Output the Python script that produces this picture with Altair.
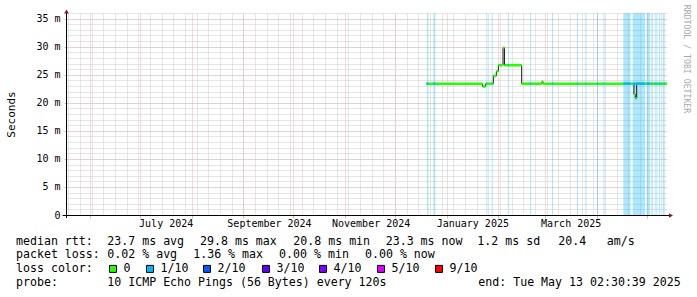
import altair as alt
import pandas as pd

# ---------------- data ----------------
# median RTT (ms): step series, change-point times and values (last = end of data)
med_time = ["2024-12-19T12:00", "2025-01-22T12:00", "2025-01-24T07:00",
            "2025-01-28T22:00", "2025-01-30T17:00", "2025-01-31T22:00",
            "2025-02-03T17:00", "2025-02-04T14:00", "2025-02-14T22:00",
            "2025-02-27T02:00", "2025-02-27T17:00", "2025-04-23T07:00",
            "2025-04-24T02:00", "2025-04-24T22:00", "2025-05-13T02:30"]
med_value = [23.4, 22.9, 23.4, 24.8, 25.6, 26.7, 29.8, 26.7, 23.4,
             23.8, 23.4, 21.5, 20.8, 23.4, 23.4]

# periods with packet loss (1/10)
loss_start = ["2024-12-20T02:00", "2024-12-23T22:00", "2025-01-24T17:00", "2025-01-27T22:00",
              "2025-02-06T17:00", "2025-02-19T22:00", "2025-03-05T02:00", "2025-03-20T02:00",
              "2025-03-25T02:00", "2025-04-01T02:00", "2025-04-05T00:00", "2025-04-16T22:00",
              "2025-04-22T12:00", "2025-04-30T22:00", "2025-05-03T17:00", "2025-05-05T17:00",
              "2025-05-06T17:00", "2025-05-08T07:00", "2025-05-09T17:00", "2025-05-11T02:00"]
loss_end = ["2024-12-20T22:00", "2024-12-25T02:00", "2025-01-25T07:00", "2025-01-28T12:00",
            "2025-02-07T07:00", "2025-02-20T12:00", "2025-03-05T17:00", "2025-03-20T17:00",
            "2025-03-25T17:00", "2025-04-01T17:00", "2025-04-05T14:00", "2025-04-21T07:00",
            "2025-04-29T22:00", "2025-05-02T22:00", "2025-05-04T07:00", "2025-05-06T07:00",
            "2025-05-07T07:00", "2025-05-08T22:00", "2025-05-10T07:00", "2025-05-11T17:00"]

x_label_months = [(2024, 7), (2024, 9), (2024, 11), (2025, 1), (2025, 3)]
y_major = [0, 5, 10, 15, 20, 25, 30, 35]
y_minor = list(range(0, 37))

stats_rtt = ["median rtt:", "23.7 ms avg", "29.8 ms max", "20.8 ms min",
             "23.3 ms now", "1.2 ms sd", "20.4", "am/s"]
stats_loss = ["packet loss:", "0.02 % avg", "1.36 % max", "0.00 % min", "0.00 % now"]
legend_title = "loss color:"
legend_labels = ["0", "1/10", "2/10", "3/10", "4/10", "5/10", "9/10"]
legend_colors = ["#26ff00", "#00b8ff", "#0059ff", "#5e00ff", "#7e00ff", "#dd00ff", "#ff0000"]
probe_text = ["probe:", "10 ICMP Echo Pings (56 Bytes) every 120s",
              "end: Tue May 13 02:30:39 2025"]
credit = "RRDTOOL / TOBI OETIKER"

# ---------------- tables ----------------
med = pd.DataFrame({"t": pd.to_datetime(med_time), "v": med_value})
seg = pd.DataFrame({"t0": med["t"][:-1].values, "t1": med["t"][1:].values,
                    "v": med["v"][:-1].values})
loss = pd.DataFrame({"t0": pd.to_datetime(loss_start), "t1": pd.to_datetime(loss_end)})
blue = pd.merge_asof(loss.sort_values("t0"), med.rename(columns={"t": "t0"}), on="t0").dropna()
one = pd.DataFrame({"k": [0]})

# ---------------- layout ----------------
W, H = 600, 202
MONO = "DejaVu Sans Mono"
t_start = alt.DateTime(year=2024, month=5, date=18, hours=2, minutes=30, seconds=39)
t_end = alt.DateTime(year=2025, month=5, date=13, hours=2, minutes=30, seconds=39)
xs = alt.Scale(domain=[t_start, t_end])
ys = alt.Scale(domain=[0, 36], nice=False, zero=True)
MINOR = "#cdcdcd"
MAJOR = "#f2b0b0"

minor_x = alt.Axis(orient="bottom", grid=True, gridColor=MINOR, gridDash=[1, 1],
                   tickCount={"interval": "week", "step": 1}, labels=False,
                   ticks=False, domain=False, title=None)
major_x = alt.Axis(orient="bottom", grid=True, gridColor=MAJOR, gridDash=[1, 1],
                   tickCount={"interval": "month", "step": 1}, labels=False,
                   ticks=True, tickColor=MAJOR, tickSize=3, domain=False, title=None)
label_x = alt.Axis(orient="bottom", grid=False,
                   values=[alt.DateTime(year=y, month=m, date=1) for y, m in x_label_months],
                   format="%B %Y", labelOffset=25.5, labelAlign="center",
                   labelFont=MONO, labelFontSize=10, labelColor="#000", labelPadding=3,
                   labelFlush=False, labelOverlap=False,
                   ticks=False, domain=False, title=None)
minor_y = alt.Axis(orient="left", values=y_minor, grid=True, gridColor=MINOR,
                   gridDash=[1, 1], labels=False, ticks=False, domain=False, title=None)
major_y = alt.Axis(orient="left", values=y_major, grid=True, gridColor=MAJOR,
                   gridDash=[1, 1], ticks=True, tickColor=MAJOR, tickSize=3,
                   labelExpr="datum.value == 0 ? '0' : datum.value + ' m'",
                   labelFont=MONO, labelFontSize=10, labelColor="#000", labelPadding=4,
                   domain=False, title="Seconds", titleFont=MONO, titleFontSize=11,
                   titleFontWeight="normal", titleColor="#000", titleX=-56, titleY=H / 2,
                   titleBaseline="middle", titleAngle=270)

bands = alt.Chart(loss).mark_rect(color="#00b8ff", opacity=0.32).encode(
    x=alt.X("t0:T", scale=xs, axis=minor_x), x2="t1:T",
    y=alt.value(0), y2=alt.value(H))

dark = alt.Chart(med).mark_line(interpolate="step-after", color="#1a1a1a",
                                strokeWidth=1).encode(
    x=alt.X("t:T", scale=xs, axis=major_x),
    y=alt.Y("v:Q", scale=ys, axis=major_y))

green = alt.Chart(seg).mark_rule(color="#26ff00", strokeWidth=2.6).encode(
    x=alt.X("t0:T", scale=xs, axis=label_x), x2="t1:T",
    y=alt.Y("v:Q", scale=ys, axis=minor_y))

bluel = alt.Chart(blue).mark_rule(color="#00b8ff", strokeWidth=2.6).encode(
    x=alt.X("t0:T", scale=xs, axis=None), x2="t1:T",
    y=alt.Y("v:Q", scale=ys, axis=None))

xline = alt.Chart(one).mark_rule(color="#000", strokeWidth=1).encode(
    x=alt.value(-4.5), x2=alt.value(602), y=alt.value(H + 0.5))
yline = alt.Chart(one).mark_rule(color="#000", strokeWidth=1).encode(
    x=alt.value(-0.5), y=alt.value(-2), y2=alt.value(H + 3))
arrow_up = alt.Chart(one).mark_point(shape="triangle-up", filled=True, color="#8b1a1a",
                                     size=22, opacity=1).encode(
    x=alt.value(-0.5), y=alt.value(-1.5))
arrow_right = alt.Chart(one).mark_point(shape="triangle-right", filled=True, color="#8b1a1a",
                                        size=22, opacity=1).encode(
    x=alt.value(604), y=alt.value(H + 0.5))


def txt(s, x, y, size=11.6, color="#000", angle=None):
    kw = {"angle": angle} if angle is not None else {}
    return alt.Chart(one).mark_text(text=s, font=MONO, fontSize=size, color=color,
                                    align="left" if angle is None else "center",
                                    baseline="middle", **kw).encode(
        x=alt.value(x), y=alt.value(y))


layers = [bands, dark, green, bluel, xline, yline, arrow_up, arrow_right]

# bottom legend texts
L1, L2, L3, L4 = 228.7, 242.2, 255.9, 269.6
rtt_x = [-51, 40.3, 133, 226.3, 318.7, 410.3, 491.3, 539.7]
for s, x in zip(stats_rtt, rtt_x):
    layers.append(txt(s, x, L1))
loss_x = [-51, 40.3, 126.2, 212.1, 298]
for s, x in zip(stats_loss, loss_x):
    layers.append(txt(s, x, L2))
layers.append(txt(legend_title, -51, L3))
sw_left = [42, 79, 136, 195, 252, 310, 368]
for lab, col, x in zip(legend_labels, legend_colors, sw_left):
    layers.append(alt.Chart(one).mark_rect(fill=col, stroke="#000", strokeWidth=1).encode(
        x=alt.value(x + 0.5), x2=alt.value(x + 7.5),
        y=alt.value(L3 - 3.5), y2=alt.value(L3 + 3.5)))
    layers.append(txt(lab, x + 14.6, L3))
probe_x = [-51, 40.3, 411.3]
for s, x in zip(probe_text, probe_x):
    layers.append(txt(s, x, L4))
layers.append(txt(credit, 619, 46, size=8.2, color="#aaaaaa", angle=90))

chart = alt.layer(*layers).resolve_axis(x="independent", y="independent").properties(
    width=W, height=H,
    padding={"left": 67, "top": 13, "right": 30, "bottom": 82},
    autosize=alt.AutoSizeParams(type="none"),
    background="white",
).configure_view(stroke=None)

chart.save("out.html", embed_options={"renderer": "svg", "actions": False})
